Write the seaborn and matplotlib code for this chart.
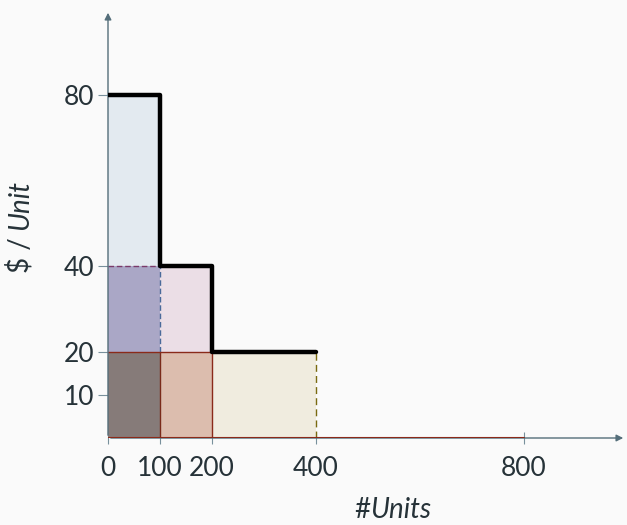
import matplotlib
matplotlib.use("Agg")
import matplotlib.pyplot as plt
import seaborn as sns
import pandas as pd

# Data
rect_x0 = [0, 0, 0, 100, 100, 200]
rect_x1 = [100, 100, 100, 200, 200, 400]
rect_y0 = [40, 20, 0, 20, 0, 0]
rect_y1 = [80, 40, 20, 40, 20, 20]
rect_colors = ["#e3eaf0", "#aaa7c6", "#867b79", "#ebdee6", "#dcbdae", "#f0ecdf"]

step_x = [0, 100, 100, 200, 200, 400]
step_y = [80, 80, 40, 40, 20, 20]

base_x = [0, 800]
base_y = [0, 0]

x_ticks = [0, 100, 200, 400, 800]
y_ticks = [10, 20, 40, 80]

sns.set_theme(style="white")
plt.rcParams["font.family"] = ["Lato", "DejaVu Sans"]
TXT = "#263238"

W, H = 627, 525
fig = plt.figure(figsize=(W / 100, H / 100), dpi=100, facecolor="#fafafa")
left, right, bottom, top = 108, 626, 87, 515
ax = fig.add_axes([left / W, bottom / H, (right - left) / W, (top - bottom) / H])
ax.set_facecolor("#fafafa")
xmax = (right - left) / 0.52
ymax = (top - bottom) / 4.29
ax.set_xlim(0, xmax)
ax.set_ylim(0, ymax)

for x0, x1, y0, y1, c in zip(rect_x0, rect_x1, rect_y0, rect_y1, rect_colors):
    ax.bar(x0, y1 - y0, width=x1 - x0, bottom=y0, align="edge", color=c, linewidth=0, zorder=1)

# edge lines
ax.plot([100, 100], [20, 40], color="#4a6a9a", lw=1, ls=(0, (4, 2)), zorder=2)
ax.plot([0, 100], [40, 40], color="#7a3a6a", lw=1, ls=(0, (4, 2)), zorder=2)
ax.plot([100, 100], [0, 20], color="#7a2a1a", lw=1, zorder=2)
ax.plot([200, 200], [0, 20], color="#8a2a1a", lw=1, zorder=2)
ax.plot([0, 200], [20, 20], color="#8a2a1a", lw=1, zorder=2)
ax.plot([400, 400], [0, 20], color="#7a6a10", lw=1, ls=(0, (5, 3)), zorder=2)

df_base = pd.DataFrame({"x": base_x, "y": base_y})
sns.lineplot(data=df_base, x="x", y="y", color="#8b2a1a", lw=1.5, ax=ax,
             sort=False, estimator=None, errorbar=None, zorder=4)

df_step = pd.DataFrame({"x": step_x, "y": step_y})
sns.lineplot(data=df_step, x="x", y="y", color="black", lw=3.2, ax=ax,
             sort=False, estimator=None, errorbar=None, zorder=5)

for s in ax.spines.values():
    s.set_visible(False)

# axis arrows
ax.annotate("", xy=(1, 0), xytext=(0, 0), xycoords="axes fraction",
            arrowprops=dict(arrowstyle="-|>", color="#546e7a", lw=1, mutation_scale=10), zorder=3)
ax.annotate("", xy=(0, 1), xytext=(0, 0), xycoords="axes fraction",
            arrowprops=dict(arrowstyle="-|>", color="#546e7a", lw=1, mutation_scale=10), zorder=3)

ax.set_xticks(x_ticks)
ax.set_xticklabels([str(v) for v in x_ticks])
ax.set_yticks(y_ticks)
ax.set_yticklabels([str(v) for v in y_ticks])
ax.tick_params(axis="x", direction="inout", length=8, width=0.8, color="#78909c",
               labelsize=19, labelcolor=TXT, pad=9, bottom=True)
ax.tick_params(axis="y", direction="out", length=7, width=0.8, color="#78909c",
               labelsize=19, labelcolor=TXT, pad=3, left=True)

ax.set_xlabel("")
ax.set_ylabel("")
fig.text(370 / W, 1 - 510 / H, "#", fontsize=20, color=TXT, ha="right", va="center")
fig.text(370 / W, 1 - 510 / H, "Units", fontsize=20, color=TXT, ha="left", va="center", style="italic")
fig.text(20 / W, 1 - 230 / H, "$ / ", fontsize=20, color=TXT, ha="center", va="top", rotation=90)
fig.text(20 / W, 1 - 230 / H, "Unit", fontsize=20, color=TXT, ha="center", va="bottom", rotation=90, style="italic")

fig.savefig("out.png", dpi=100, facecolor=fig.get_facecolor())
